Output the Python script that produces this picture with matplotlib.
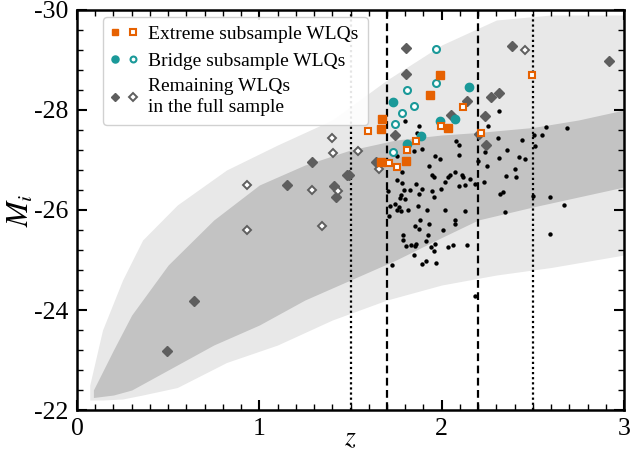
import matplotlib
matplotlib.use("Agg")
import matplotlib.pyplot as plt
from matplotlib.legend_handler import HandlerTuple
from matplotlib.ticker import MultipleLocator

plt.rcParams['font.family'] = ['Liberation Serif', 'DejaVu Serif']
plt.rcParams['mathtext.fontset'] = 'stix'
plt.rcParams['axes.unicode_minus'] = False

# ---- background quasar cloud envelopes (z, M_i) ----
halo_z = [0.07, 0.14, 0.25, 0.36, 0.55, 0.82, 1.10, 1.40, 1.70, 2.00, 2.30, 2.60, 3.00]
halo_bright = [-22.5, -23.6, -24.6, -25.4, -26.1, -26.8, -27.3, -27.8, -28.6, -29.3, -29.8, -29.9, -29.9]
halo_faint = [-22.2, -22.2, -22.22, -22.3, -22.45, -22.95, -23.3, -23.8, -24.2, -24.5, -24.7, -24.85, -25.1]

core_z = [0.09, 0.20, 0.30, 0.50, 0.75, 1.00, 1.25, 1.50, 1.75, 2.00, 2.20, 2.50, 2.75, 3.00]
core_bright = [-22.4, -23.2, -23.9, -24.9, -25.8, -26.5, -26.9, -27.2, -27.4, -27.5, -27.55, -27.65, -27.8, -28.0]
core_faint = [-22.25, -22.3, -22.4, -22.8, -23.3, -23.7, -24.2, -24.6, -25.0, -25.45, -25.8, -26.06, -26.26, -26.46]

# ---- Extreme subsample ----
ext_filled_z = [1.993, 1.934, 1.675, 1.669, 2.035, 1.669, 1.807]
ext_filled_M = [-28.70, -28.30, -27.81, -27.61, -27.63, -26.95, -26.97]
ext_open_z = [1.598, 2.117, 1.995, 1.861, 1.810, 1.711, 1.757, 2.217, 2.495]
ext_open_M = [-27.58, -28.05, -27.67, -27.38, -27.20, -26.93, -26.85, -27.53, -28.69]

# ---- Bridge subsample ----
br_filled_z = [1.733, 2.150, 1.989, 2.071, 1.885, 1.812]
br_filled_M = [-28.15, -28.45, -27.77, -27.82, -27.48, -27.31]
br_open_z = [1.971, 1.971, 1.812, 1.847, 1.781, 1.742, 1.733]
br_open_M = [-29.21, -28.53, -28.40, -28.08, -27.93, -27.72, -27.15]

# ---- Remaining WLQs ----
rem_filled_z = [1.803, 1.807, 2.141, 2.053, 1.746, 2.239, 2.272, 2.314, 2.387, 2.245,
                2.917, 1.642, 1.490, 2.203, 1.291, 1.481, 1.154, 1.408, 1.419, 0.641, 0.495]
rem_filled_M = [-29.23, -28.72, -28.17, -27.90, -27.50, -27.87, -28.25, -28.33, -29.27, -27.29,
                -28.97, -26.95, -26.70, -27.52, -26.95, -26.70, -26.50, -26.48, -26.25, -24.19, -23.19]
rem_open_z = [2.459, 1.542, 1.655, 1.405, 1.400, 0.930, 1.288, 1.434, 0.935, 1.342]
rem_open_M = [-29.19, -27.17, -26.81, -27.13, -27.44, -26.50, -26.40, -26.37, -25.60, -25.68]

# ---- black dots (other quasars) ----
blk_z = [1.797, 1.876, 1.865, 1.892, 2.077, 2.095, 2.254, 2.312, 2.308, 2.442, 2.504, 2.552,
         2.574, 2.687, 2.513, 2.358, 1.847, 1.962, 1.989, 2.093, 1.930, 1.947, 1.956, 2.044,
         2.035, 2.075, 2.113, 2.117, 2.157, 2.181, 2.199, 2.236, 2.312, 2.250, 2.422, 2.459,
         2.400, 2.355, 2.409, 2.230, 1.753, 1.781, 1.753, 1.781, 1.861, 1.894, 1.829, 1.874,
         1.949, 1.956, 1.998, 2.016, 1.792, 1.779, 1.770, 1.797, 1.706, 1.715, 1.742, 1.766,
         1.755, 1.779, 1.815, 1.870, 1.922, 2.020, 2.126, 1.711, 1.879, 1.930, 1.852, 1.874,
         1.788, 1.788, 1.925, 1.807, 1.834, 1.852, 1.861, 1.912, 1.965, 1.944, 1.956, 2.035,
         2.062, 2.139, 2.071, 2.075, 1.847, 1.916, 1.894, 1.971, 1.728, 2.181, 2.318, 2.336,
         2.345, 2.500, 2.592, 2.670, 2.592, 2.010, 2.095, 2.126]
blk_M = [-27.77, -27.68, -27.53, -27.22, -27.37, -27.29, -27.67, -27.98, -27.43, -27.39, -27.50, -27.49,
         -27.65, -27.63, -27.27, -27.20, -27.17, -27.08, -27.02, -27.10, -26.88, -26.70, -26.65, -26.70,
         -26.65, -26.75, -26.70, -26.65, -26.61, -26.52, -26.97, -27.15, -27.03, -26.88, -27.05, -27.02,
         -26.81, -26.68, -26.65, -26.55, -27.08, -26.75, -26.60, -26.53, -26.51, -26.41, -26.40, -26.31,
         -26.37, -26.25, -26.41, -26.56, -26.39, -26.30, -26.23, -26.21, -26.37, -26.07, -26.12, -26.05,
         -25.99, -25.97, -26.00, -26.07, -26.00, -26.00, -25.97, -25.87, -25.79, -25.72, -25.67, -25.61,
         -25.50, -25.39, -25.50, -25.27, -25.30, -25.27, -25.32, -25.37, -25.32, -25.25, -25.17, -25.25,
         -25.29, -25.29, -25.79, -25.72, -25.10, -24.98, -24.93, -24.95, -24.90, -24.29, -26.31, -26.35,
         -25.95, -26.28, -26.25, -26.09, -25.51, -25.60, -26.48, -26.50]

# ---- vertical redshift boundaries ----
dotted_z = [1.5, 2.5]
dashed_z = [1.7, 2.2]

ORANGE = '#e66101'
TEAL = '#1a9999'
GRAY = '#5e5e5e'

fig = plt.figure(figsize=(6.3, 4.54), dpi=100)
ax = fig.add_axes([0.1222, 0.0969, 0.8683, 0.8811])

ax.fill_between(halo_z, halo_faint, halo_bright, color='#e8e8e8', lw=0, zorder=0)
ax.fill_between(core_z, core_faint, core_bright, color='#c3c3c3', lw=0, zorder=0.5)

for z in dotted_z:
    ax.axvline(z, color='black', ls=(0, (1, 1.3)), lw=1.6, zorder=1)
for z in dashed_z:
    ax.axvline(z, color='black', ls=(0, (3.5, 2)), lw=1.6, zorder=1)

ax.scatter(blk_z, blk_M, s=10, color='black', lw=0, zorder=2)

rf, = ax.plot(rem_filled_z, rem_filled_M, 'D', color=GRAY, ms=4.8, mec=GRAY, ls='none', zorder=3)
ro, = ax.plot(rem_open_z, rem_open_M, 'D', ms=4.3, mfc='white', mec=GRAY, mew=1.4, ls='none', zorder=3)
bf, = ax.plot(br_filled_z, br_filled_M, 'o', color=TEAL, ms=6.0, mec=TEAL, ls='none', zorder=4)
bo, = ax.plot(br_open_z, br_open_M, 'o', ms=5.0, mfc='white', mec=TEAL, mew=1.5, ls='none', zorder=4)
ef, = ax.plot(ext_filled_z, ext_filled_M, 's', color=ORANGE, ms=5.6, mec=ORANGE, ls='none', zorder=5)
eo, = ax.plot(ext_open_z, ext_open_M, 's', ms=5.0, mfc='white', mec=ORANGE, mew=1.5, ls='none', zorder=5)

ax.set_xlim(0, 3)
ax.set_ylim(-22, -30)
ax.xaxis.set_major_locator(MultipleLocator(1))
ax.xaxis.set_minor_locator(MultipleLocator(0.1))
ax.yaxis.set_major_locator(MultipleLocator(2))
ax.yaxis.set_minor_locator(MultipleLocator(0.4))
ax.tick_params(which='both', direction='in', top=True, right=True, labelsize=18.5, pad=6)
ax.tick_params(which='major', length=7, width=1.5)
ax.tick_params(which='minor', length=4, width=1.0)
for sp in ax.spines.values():
    sp.set_linewidth(1.8)

ax.set_xlabel(r'$z$', fontsize=20, labelpad=-10)
ax.set_ylabel(r'$M_i$', fontsize=22, labelpad=-1)

leg = ax.legend([(ef, eo), (bf, bo), (rf, ro)],
                ['Extreme subsample WLQs', 'Bridge subsample WLQs', 'Remaining WLQs\nin the full sample'],
                handler_map={tuple: HandlerTuple(ndivide=None, pad=0.5)},
                loc='upper left', bbox_to_anchor=(0.047, 0.983), borderaxespad=0,
                fontsize=14, handlelength=1.3, handletextpad=0.6, labelspacing=0.45,
                frameon=True, fancybox=True, framealpha=0.9, edgecolor='#cccccc',
                borderpad=0.45, markerscale=0.85)

fig.savefig('out.png', dpi=100)
